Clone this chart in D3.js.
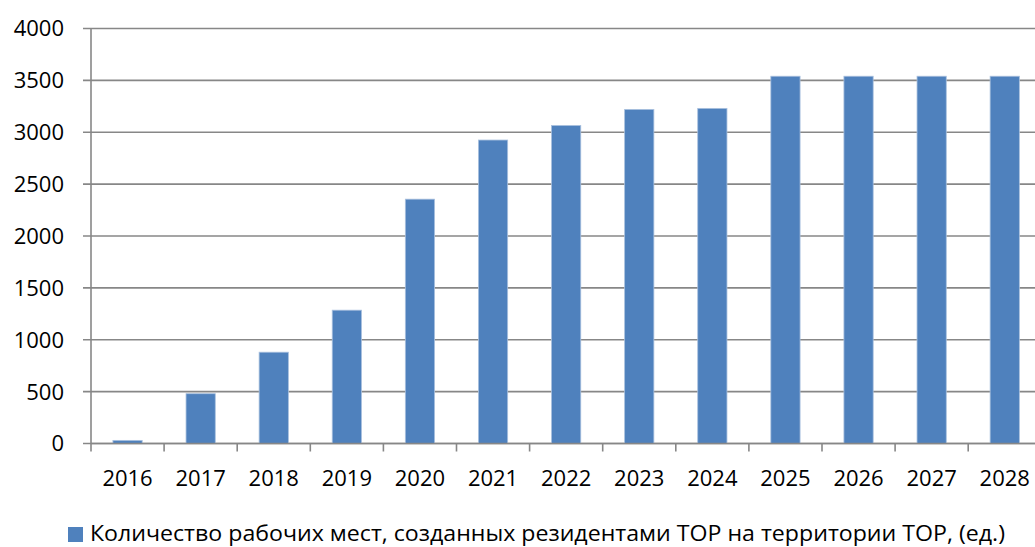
<!DOCTYPE html>
<html>
<head>
<meta charset="utf-8">
<script src="https://cdn.jsdelivr.net/npm/d3@7"></script>
<style>
  body { margin: 0; background: #fff; }
  text { font-family: "Open Sans", "Noto Sans", sans-serif; fill: #000; }
</style>
</head>
<body>
<div id="chart"></div>
<script>
var years = ["2016","2017","2018","2019","2020","2021","2022","2023","2024","2025","2026","2027","2028"];
var jobs = [30, 480, 880, 1285, 2355, 2925, 3065, 3220, 3230, 3540, 3540, 3540, 3540];
var y_ticks = [0, 500, 1000, 1500, 2000, 2500, 3000, 3500, 4000];
var legend_label = "Количество рабочих мест, созданных резидентами ТОР на территории ТОР, (ед.)";

var chart_width = 1035;
var chart_height = 547;
var left = 91, top_y = 28.5, bottom_y = 443.5;
var band = 73.1;

var svg = d3.select("#chart")
    .append("svg")
    .attr("width", chart_width)
    .attr("height", chart_height);

var x_scale = d3.scaleBand()
    .domain(years)
    .range([left, left + band * years.length])
    .paddingInner(0.6)
    .paddingOuter(0.3);

var y_scale = d3.scaleLinear()
    .domain([0, 4000])
    .range([bottom_y, top_y]);

// gridlines
svg.selectAll("line.grid")
    .data(y_ticks)
    .enter()
    .append("line")
    .attr("class", "grid")
    .attr("x1", left - 8)
    .attr("x2", chart_width)
    .attr("y1", function(d){ return y_scale(d); })
    .attr("y2", function(d){ return y_scale(d); })
    .attr("stroke", "#878787")
    .attr("stroke-width", 1.6);

// y labels
svg.selectAll("text.ylab")
    .data(y_ticks)
    .enter()
    .append("text")
    .attr("class", "ylab")
    .attr("x", 64)
    .attr("y", function(d){ return y_scale(d); })
    .attr("dy", "0.36em")
    .attr("text-anchor", "end")
    .style("font-size", "22px")
    .text(function(d){ return d; });

// bars
svg.selectAll("rect.bar")
    .data(jobs)
    .enter()
    .append("rect")
    .attr("class", "bar")
    .attr("x", function(d, i){ return x_scale(years[i]); })
    .attr("y", function(d){ return y_scale(d); })
    .attr("width", x_scale.bandwidth())
    .attr("height", function(d){ return bottom_y - y_scale(d); })
    .attr("fill", "#4F81BD")
    .attr("stroke", "#a9c0de")
    .attr("stroke-width", 0.8);

// y axis line
svg.append("line")
    .attr("x1", left).attr("x2", left)
    .attr("y1", top_y).attr("y2", bottom_y + 8)
    .attr("stroke", "#878787")
    .attr("stroke-width", 1.6);

// x axis line and ticks
svg.append("line")
    .attr("x1", left).attr("x2", chart_width)
    .attr("y1", bottom_y).attr("y2", bottom_y)
    .attr("stroke", "#878787")
    .attr("stroke-width", 1.6);

svg.selectAll("line.xtick")
    .data(years)
    .enter()
    .append("line")
    .attr("class", "xtick")
    .attr("x1", function(d, i){ return left + band * (i + 1); })
    .attr("x2", function(d, i){ return left + band * (i + 1); })
    .attr("y1", bottom_y)
    .attr("y2", bottom_y + 8)
    .attr("stroke", "#878787")
    .attr("stroke-width", 1.6);

// x labels
svg.selectAll("text.xlab")
    .data(years)
    .enter()
    .append("text")
    .attr("class", "xlab")
    .attr("x", function(d){ return x_scale(d) + x_scale.bandwidth() / 2; })
    .attr("y", 486)
    .attr("text-anchor", "middle")
    .style("font-size", "22px")
    .text(function(d){ return d; });

// legend
svg.append("rect")
    .attr("x", 68).attr("y", 527)
    .attr("width", 15).attr("height", 15)
    .attr("fill", "#4F81BD");

svg.append("text")
    .attr("x", 90)
    .attr("y", 541)
    .attr("textLength", 915)
    .attr("lengthAdjust", "spacingAndGlyphs")
    .style("font-size", "22px")
    .text(legend_label);
</script>
</body>
</html>
